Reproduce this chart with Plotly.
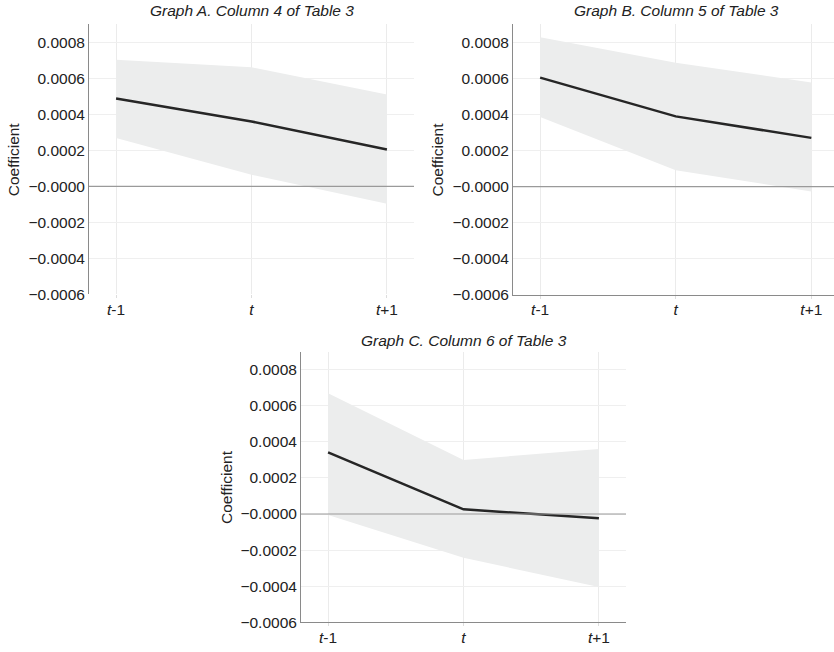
import plotly.graph_objects as go

categories = ["t-1", "t", "t+1"]
tick_labels = ["<i>t</i>-1", "<i>t</i>", "<i>t</i>+1"]

a_coef = [0.000488, 0.000360, 0.000204]
a_upper = [0.000703, 0.000661, 0.000510]
a_lower = [0.000268, 0.000064, -0.000097]

b_coef = [0.000604, 0.000389, 0.000270]
b_upper = [0.000827, 0.000687, 0.000577]
b_lower = [0.000385, 0.000091, -0.000027]

c_coef = [0.000342, 0.000026, -0.000024]
c_upper = [0.000670, 0.000300, 0.000360]
c_lower = [-0.000005, -0.000243, -0.000404]

y_tickvals = [-0.0006, -0.0004, -0.0002, 0.0, 0.0002, 0.0004, 0.0006, 0.0008]
y_ticktext = ["\u22120.0006", "\u22120.0004", "\u22120.0002", "\u22120.0000",
              "0.0002", "0.0004", "0.0006", "0.0008"]

titles = ["Graph A. Column 4 of Table 3", "Graph B. Column 5 of Table 3",
          "Graph C. Column 6 of Table 3"]

W, H = 834, 652
FONT = "Liberation Sans, Arial, Helvetica, sans-serif"
FS = 15.5

panels = [
    # (coef, upper, lower, x0px, x1px, ytop_px, ybot_px, xrange, showbottom)
    (a_coef, a_upper, a_lower, 89, 414, 24.5, 298, [-0.2, 2.2], False),
    (b_coef, b_upper, b_lower, 513, 834, 24.5, 298.5, [-0.2, 2.167], True),
    (c_coef, c_upper, c_lower, 301, 626, 356, 630, [-0.2, 2.2], True),
]

fig = go.Figure()
layout = dict(width=W, height=H, margin=dict(l=0, r=0, t=0, b=0),
              paper_bgcolor="white", plot_bgcolor="white", showlegend=False,
              font=dict(family=FONT, size=FS, color="#222"))
annotations = []
shapes = []

for i, (coef, up, lo, x0, x1, yt, yb, xr, showbottom) in enumerate(panels):
    n = i + 1
    xa = "x" if n == 1 else f"x{n}"
    ya = "y" if n == 1 else f"y{n}"
    fig.add_trace(go.Scatter(x=categories, y=lo, mode="lines", line=dict(width=0),
                             xaxis=xa, yaxis=ya, hoverinfo="skip"))
    fig.add_trace(go.Scatter(x=categories, y=up, mode="lines", line=dict(width=0),
                             fill="tonexty", fillcolor="rgb(236,237,237)",
                             xaxis=xa, yaxis=ya, hoverinfo="skip"))
    fig.add_trace(go.Scatter(x=categories, y=coef, mode="lines",
                             line=dict(color="#262626", width=2.5),
                             xaxis=xa, yaxis=ya))
    xkey = "xaxis" if n == 1 else f"xaxis{n}"
    ykey = "yaxis" if n == 1 else f"yaxis{n}"
    layout[xkey] = dict(domain=[x0 / W, x1 / W], anchor=ya, type="category",
                        range=xr, tickvals=categories, ticktext=tick_labels,
                        showgrid=True, gridcolor="#ebebeb", gridwidth=1,
                        ticks="outside", ticklen=3, tickcolor="#dddddd",
                        ticklabelstandoff=-2,
                        showline=showbottom, linecolor="#8a8a8a", linewidth=1,
                        zeroline=False, tickfont=dict(size=FS, color="#222"),
                        fixedrange=True)
    layout[ykey] = dict(domain=[(H - yb) / H, (H - yt) / H], anchor=xa,
                        range=[-0.0006, 0.0009], tickvals=y_tickvals,
                        ticktext=y_ticktext, showgrid=True, gridcolor="#efefef",
                        gridwidth=1, showline=True, linecolor="#8a8a8a",
                        linewidth=1, ticks="", zeroline=False,
                        tickfont=dict(size=FS, color="#222"), fixedrange=True)
    # zero reference line
    shapes.append(dict(type="line", xref=f"{xa} domain", yref=ya, x0=0, x1=1,
                       y0=0, y1=0, line=dict(color="#9a9a9a", width=1.2),
                       layer="above"))
    # panel title
    ty = 11 if n < 3 else 345
    annotations.append(dict(text=f"<i>{titles[i]}</i>", xref="paper", yref="paper",
                            x=(x0 + (x1 if n != 2 else 839)) / 2 / W,
                            y=1 - ty / H, showarrow=False, xanchor="center",
                            yanchor="middle", font=dict(size=FS, color="#222")))
    # y axis title
    yx = {1: 13, 2: 438, 3: 227}[n]
    annotations.append(dict(text="Coefficient", textangle=-90, xref="paper",
                            yref="paper", x=yx / W, y=1 - ((yt + yb) / 2) / H,
                            showarrow=False, xanchor="center", yanchor="middle",
                            font=dict(size=FS, color="#222")))

layout["annotations"] = annotations
layout["shapes"] = shapes
fig.update_layout(**layout)
fig.write_html(
    "out.html",
    config={"displayModeBar": False},
    post_script=("document.body.style.margin='0';"
                 "document.body.style.padding='0';"
                 "document.body.style.overflow='hidden';"),
)
